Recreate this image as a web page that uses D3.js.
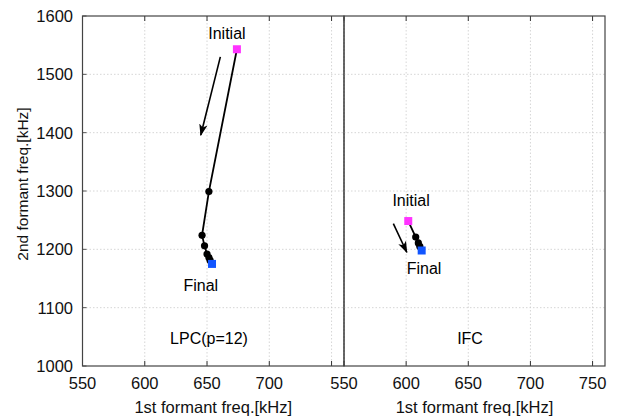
<!DOCTYPE html>
<html><head><meta charset="utf-8">
<script src="https://cdn.jsdelivr.net/npm/d3@7"></script>
<style>body{margin:0;background:#fff}text{font-family:"Liberation Sans",Arial,sans-serif}</style>
</head><body><svg id="c" width="624" height="419"></svg>
<script>
const xTicks = [550, 600, 650, 700, 750];
const yTicks = [1000, 1100, 1200, 1300, 1400, 1500, 1600];
const panelNames = ["LPC(p=12)", "IFC"];
// LPC trajectory (F1, F2)
const lpcF1 = [674, 651.5, 646, 648, 650, 651.5, 652.5, 654];
const lpcF2 = [1543, 1299, 1224, 1206, 1192, 1186, 1181, 1175];
// IFC trajectory
const ifcF1 = [601.7, 607.7, 609.8, 611, 612.5];
const ifcF2 = [1248.5, 1221, 1211, 1205, 1198];
// arrows [x1,y1,x2,y2] in data units
const lpcArrow = [660.7, 1530, 645, 1396];
const ifcArrow = [589.7, 1244, 600.5, 1195];

const svg = d3.select("#c");
const yTop = 16, yBot = 366;
const y = d3.scaleLinear().domain([1000, 1600]).range([yBot, yTop]);
const panels = [[82.5, 344], [344, 605]];
const data = [[lpcF1, lpcF2, lpcArrow], [ifcF1, ifcF2, ifcArrow]];
const labelPos = [
  {init: [666, 1560], fin: [645, 1128], name: [651.6, 1038]},
  {init: [604, 1274], fin: [614.4, 1157], name: [651.4, 1038]}
];
svg.append("defs").append("marker").attr("id","ah").attr("viewBox","0 0 10 10")
  .attr("refX",9).attr("refY",5).attr("markerWidth",12).attr("markerHeight",12)
  .attr("markerUnits","userSpaceOnUse").attr("orient","auto")
  .append("path").attr("d","M0,1.5 L10,5 L0,8.5 L2.5,5 Z").attr("fill","#000");

panels.forEach((p, i) => {
  const x = d3.scaleLinear().domain([550, 760]).range(p);
  const g = svg.append("g");
  xTicks.forEach(t => g.append("line").attr("x1", x(t)).attr("x2", x(t)).attr("y1", yTop).attr("y2", yBot)
    .attr("stroke", "#ccc").attr("stroke-width", 0.8).attr("stroke-dasharray", "1.5,2"));
  yTicks.slice(1, -1).forEach(t => g.append("line").attr("x1", p[0]).attr("x2", p[1]).attr("y1", y(t)).attr("y2", y(t))
    .attr("stroke", "#ccc").attr("stroke-width", 0.8).attr("stroke-dasharray", "1.5,2"));
  xTicks.forEach(t => {
    g.append("line").attr("x1", x(t)).attr("x2", x(t)).attr("y1", yBot).attr("y2", yBot - 5).attr("stroke", "#333").attr("stroke-width", 1);
    g.append("line").attr("x1", x(t)).attr("x2", x(t)).attr("y1", yTop).attr("y2", yTop + 5).attr("stroke", "#333").attr("stroke-width", 1);
  });
  if (i === 0) {
    yTicks.forEach(t => g.append("line").attr("x1", p[0]).attr("x2", p[0] + 4).attr("y1", y(t)).attr("y2", y(t)).attr("stroke", "#555"));
  }
  g.append("rect").attr("x", p[0]).attr("y", yTop).attr("width", p[1] - p[0]).attr("height", yBot - yTop)
    .attr("fill", "none").attr("stroke", "#444").attr("stroke-width", 1.2);
  const xl = i === 0 ? xTicks.slice(0, 4) : xTicks;
  xl.forEach(t => g.append("text").attr("x", x(t)).attr("y", 389).attr("text-anchor", "middle")
    .attr("font-size", 16.5).attr("fill", "#111").text(t));
  g.append("text").attr("x", (p[0] + p[1]) / 2).attr("y", 413).attr("text-anchor", "middle")
    .attr("font-size", 16.5).attr("fill", "#111").text("1st formant freq.[kHz]");
  const [f1, f2, arr] = data[i];
  const pts = f1.map((v, k) => [x(v), y(f2[k])]);
  g.append("path").attr("d", d3.line()(pts)).attr("fill", "none").attr("stroke", "#000").attr("stroke-width", 1.8);
  pts.slice(1, -1).forEach(q => g.append("circle").attr("cx", q[0]).attr("cy", q[1]).attr("r", 3.6).attr("fill", "#000"));
  const s = 8;
  g.append("rect").attr("x", pts[0][0] - s / 2).attr("y", pts[0][1] - s / 2).attr("width", s).attr("height", s).attr("fill", "#ff33ff");
  const l = pts[pts.length - 1];
  g.append("rect").attr("x", l[0] - s / 2).attr("y", l[1] - s / 2).attr("width", s).attr("height", s).attr("fill", "#1155ff");
  g.append("line").attr("x1", x(arr[0])).attr("y1", y(arr[1])).attr("x2", x(arr[2])).attr("y2", y(arr[3]))
    .attr("stroke", "#000").attr("stroke-width", 1.6).attr("marker-end", "url(#ah)");
  const lp = labelPos[i];
  g.append("text").attr("x", x(lp.init[0])).attr("y", y(lp.init[1])).attr("text-anchor", "middle").attr("font-size", 16).text("Initial");
  g.append("text").attr("x", x(lp.fin[0])).attr("y", y(lp.fin[1])).attr("text-anchor", "middle").attr("font-size", 16).text("Final");
  g.append("text").attr("x", x(lp.name[0])).attr("y", y(lp.name[1])).attr("text-anchor", "middle").attr("font-size", 16).text(panelNames[i]);
});
yTicks.forEach(t => svg.append("text").attr("x", 73).attr("y", y(t) + 6).attr("text-anchor", "end")
  .attr("font-size", 16.5).attr("fill", "#111").text(t));
svg.append("text").attr("transform", "translate(28,184) rotate(-90)").attr("text-anchor", "middle")
  .attr("font-size", 15.5).attr("fill", "#111").text("2nd formant freq.[kHz]");
</script></body></html>
